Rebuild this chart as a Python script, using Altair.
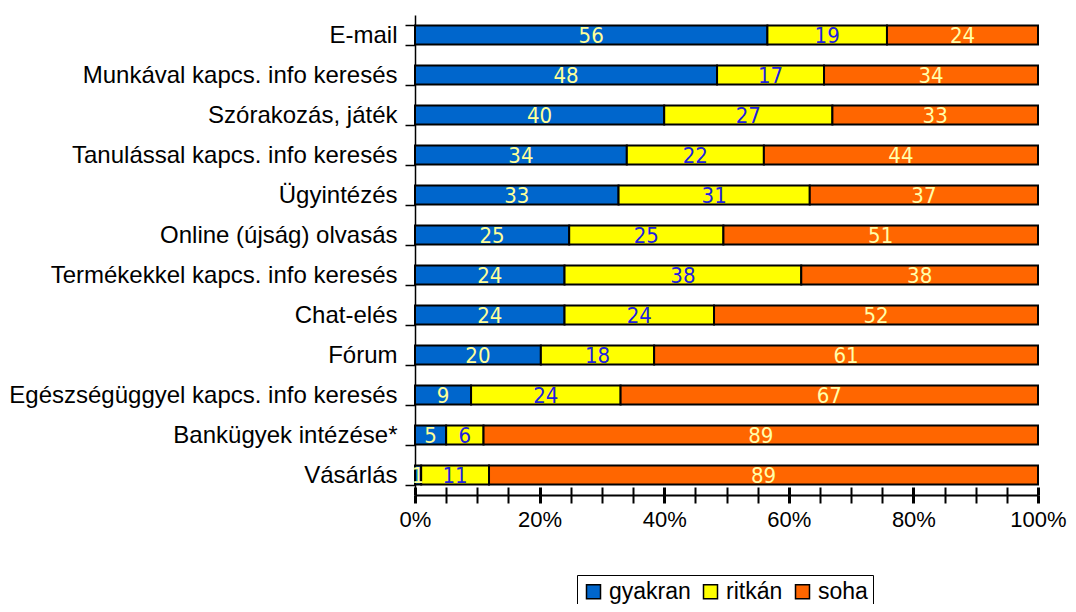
import altair as alt
import pandas as pd

categories = [
    "E-mail",
    "Munkával kapcs. info keresés",
    "Szórakozás, játék",
    "Tanulással kapcs. info keresés",
    "Ügyintézés",
    "Online (újság) olvasás",
    "Termékekkel kapcs. info keresés",
    "Chat-elés",
    "Fórum",
    "Egészségüggyel kapcs. info keresés",
    "Bankügyek intézése*",
    "Vásárlás",
]
series = ["gyakran", "ritkán", "soha"]
gyakran = [56, 48, 40, 34, 33, 25, 24, 24, 20, 9, 5, 1]
ritkan = [19, 17, 27, 22, 31, 25, 38, 24, 18, 24, 6, 11]
soha = [24, 34, 33, 44, 37, 51, 38, 52, 61, 67, 89, 89]
colors = ["#0066cc", "#ffff00", "#ff6600"]
text_colors = ["#ffff99", "#2020e0", "#ffffaa"]
tick_values = [i / 20 for i in range(21)]

rows = []
for s_i, (s, vals) in enumerate(zip(series, [gyakran, ritkan, soha])):
    for c, v in zip(categories, vals):
        rows.append({"cat": c, "series": s, "value": v, "ord": s_i, "tc": text_colors[s_i]})
df = pd.DataFrame(rows)

main_font = "Liberation Sans, Arial"
label_font = "Liberation Sans Narrow, Arial Narrow, DejaVu Sans Condensed"
fs = 24

tick_width = {"condition": {"test": "round(datum.value*100) % 20 === 0", "value": 3}, "value": 2}

x_axis = alt.Axis(
    values=tick_values,
    format="%",
    labelExpr="round(datum.value*100) % 20 === 0 ? datum.label : ''",
    title=None,
    grid=False,
    orient="bottom",
    tickSize=8,
    tickColor="black",
    tickWidth=tick_width,
    domainColor="black",
    domainWidth=2,
    labelFont=main_font,
    labelFontSize=22,
    labelColor="black",
    labelPadding=6,
    labelFlush=False,
    labelOverlap=False,
)
x_axis_inner = alt.Axis(
    values=tick_values,
    title=None,
    grid=False,
    orient="bottom",
    offset=-8,
    tickSize=8,
    tickColor="black",
    tickWidth=tick_width,
    domain=False,
    labels=False,
)
y_axis = alt.Axis(
    title=None,
    tickBand="extent",
    tickSize=10,
    tickColor="black",
    tickWidth=1.5,
    domainColor="black",
    domainWidth=1.5,
    labelFont=main_font,
    labelFontSize=fs,
    labelColor="black",
    labelPadding=8,
    labelLimit=600,
)

base = alt.Chart(df)
bars = base.mark_bar(stroke="black", strokeWidth=2, size=19).encode(
    y=alt.Y("cat:N", sort=categories, axis=y_axis, scale=alt.Scale(paddingInner=0.5)),
    x=alt.X("value:Q", stack="normalize", axis=x_axis, scale=alt.Scale(domain=[0, 1])),
    color=alt.Color(
        "series:N",
        scale=alt.Scale(domain=series, range=colors),
        sort=series,
        legend=alt.Legend(
            title=None,
            orient="none",
            legendX=162,
            legendY=560,
            direction="horizontal",
            symbolType="square",
            symbolSize=196,
            symbolStrokeColor="black",
            symbolStrokeWidth=1.5,
            symbolOpacity=1,
            labelFont=main_font,
            labelFontSize=23,
            labelColor="black",
            labelOffset=4,
            columnPadding=8,
            strokeColor="black",
            padding=5,
            fillColor="white",
        ),
    ),
    order=alt.Order("ord:Q"),
)

labels = base.transform_joinaggregate(
    total="sum(value)", groupby=["cat"]
).transform_window(
    cum="sum(value)", sort=[alt.SortField("ord")], groupby=["cat"], frame=[None, 0]
).transform_calculate(
    mid="(datum.cum - datum.value/2)/datum.total"
).mark_text(font=label_font, fontSize=22, align="center", baseline="middle", dy=1).encode(
    y=alt.Y("cat:N", sort=categories),
    x=alt.X("mid:Q", axis=x_axis_inner),
    text=alt.Text("value:Q"),
    color=alt.Color("tc:N", scale=None),
)

chart = (
    alt.layer(bars, labels)
    .resolve_axis(x="independent")
    .properties(
        width=623,
        height=480,
        autosize=alt.AutoSizeParams(type="none"),
        padding={"left": 407, "top": 7, "right": 30, "bottom": 109},
    )
    .configure(font=main_font)
    .configure_view(stroke=None)
)

chart.save("out.html", embed_options={"renderer": "svg", "actions": False})
